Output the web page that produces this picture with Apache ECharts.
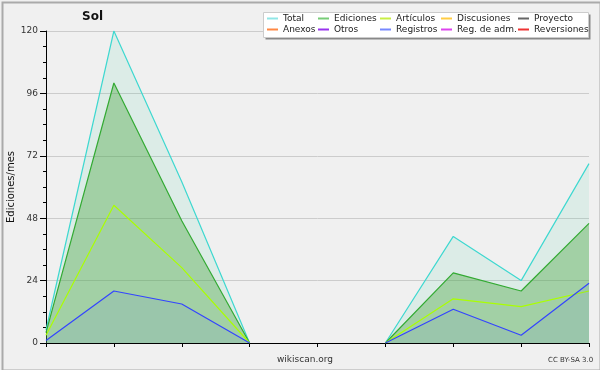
<!DOCTYPE html>
<html><head><meta charset="utf-8">
<script src="https://cdn.jsdelivr.net/npm/echarts@6/dist/echarts.min.js"></script>
<style>html,body{margin:0;padding:0;background:#f0f0f0}#c{width:600px;height:370px}</style>
</head><body><div id="c"></div>
<script>
var categories = ['1','2','3','4','5','6','7','8','9'];
var total      = [5, 120, 62, 0, null, 0, 41, 24, 69];
var ediciones  = [4, 100, 47, 0, null, 0, 27, 20, 46];
var articulos  = [3, 53, 29, 0, null, 0, 17, 14, 20];
var registros  = [1, 20, 15, 0, null, 0, 13, 3, 23];
var emptySeries = [];
var yTicks = [0, 24, 48, 72, 96, 120];

var legendNames = ['Total','Ediciones','Artículos','Discusiones','Proyecto','Anexos','Otros','Registros','Reg. de adm.','Reversiones'];
var legendColors = ['#90e6e6','#77cc77','#c8ee44','#ffcc44','#666666','#ff8844','#9933ee','#7788ff','#dd44ee','#ee3333'];

var chart = echarts.init(document.getElementById('c'), null, {renderer:'canvas'});
var font = 'DejaVu Sans';

function mkSeries(name, data, lineColor, legendColor, fill, z) {
  var s = {
    name: name, type: 'line', data: data, symbol: 'none', z: z,
    connectNulls: false, animation: false,
    lineStyle: {color: lineColor, width: 1.2},
    itemStyle: {color: legendColor}
  };
  if (fill) s.areaStyle = {color: fill, origin: 'start'};
  return s;
}

var series = [
  mkSeries('Total', total, '#3ed8d0', legendColors[0], 'rgba(70,215,170,0.16)', 2),
  mkSeries('Ediciones', ediciones, '#33aa33', legendColors[1], 'rgba(70,165,60,0.55)', 3),
  mkSeries('Artículos', articulos, '#aaff00', legendColors[2], null, 4),
  mkSeries('Registros', registros, '#3344ff', legendColors[7], 'rgba(51,68,255,0.1)', 5),
  mkSeries('Discusiones', emptySeries, legendColors[3], legendColors[3], null, 1),
  mkSeries('Proyecto', emptySeries, legendColors[4], legendColors[4], null, 1),
  mkSeries('Anexos', emptySeries, legendColors[5], legendColors[5], null, 1),
  mkSeries('Otros', emptySeries, legendColors[6], legendColors[6], null, 1),
  mkSeries('Reg. de adm.', emptySeries, legendColors[8], legendColors[8], null, 1),
  mkSeries('Reversiones', emptySeries, legendColors[9], legendColors[9], null, 1)
];

var colX = [267, 318, 380, 441, 518];
var legends = [];
for (var c = 0; c < 5; c++) {
  var items = [];
  for (var r = 0; r < 2; r++) {
    var i = r * 5 + c;
    items.push({name: legendNames[i], icon: 'rect', itemStyle: {color: legendColors[i], borderWidth: 0}});
  }
  legends.push({
    orient: 'vertical', left: colX[c], top: 13, itemGap: 0,
    itemWidth: 11, itemHeight: 2, itemStyle: {borderWidth: 0},
    selectedMode: false, data: items, padding: 0,
    textStyle: {fontFamily: font, fontSize: 9, color: '#222', lineHeight: 11, padding: [0,0,0,0]},
    z: 20
  });
}

chart.setOption({
  backgroundColor: '#f0f0f0',
  animation: false,
  textStyle: {fontFamily: font},
  grid: {left: 46, right: 11, top: 31, bottom: 27, containLabel: false, outerBoundsMode: 'none'},
  legend: legends,
  xAxis: {
    type: 'category', data: categories, boundaryGap: false,
    axisLine: {lineStyle: {color: '#000', width: 1}},
    axisTick: {show: true, length: 4, lineStyle: {color: '#000'}},
    axisLabel: {show: false},
    splitLine: {show: false}
  },
  yAxis: {
    type: 'value', min: yTicks[0], max: yTicks[yTicks.length-1], interval: 24,
    name: 'Ediciones/mes', nameLocation: 'middle', nameGap: 30, nameRotate: 90,
    nameMoveOverlap: false,
    nameTextStyle: {fontFamily: font, fontSize: 10, color: '#111'},
    axisLine: {show: true, lineStyle: {color: '#000', width: 1}},
    axisTick: {show: true, length: 6, lineStyle: {color: '#000'}},
    minorTick: {show: true, splitNumber: 4, length: 3, lineStyle: {color: '#000'}},
    axisLabel: {fontFamily: font, fontSize: 9, color: '#333', margin: 8},
    splitLine: {show: true, lineStyle: {color: '#cccccc', width: 1}}
  },
  series: series,
  graphic: [
    {type: 'rect', left: 0, top: 0, z: 0, silent: true,
     shape: {x: 0.5, y: 0.5, width: 598, height: 368},
     style: {fill: 'none', stroke: '#aaaaaa', lineWidth: 2}},
    {type: 'rect', z: 10, silent: true, shape: {x: 265.5, y: 14.5, width: 325, height: 25},
     style: {fill: '#888888', stroke: 'none'}},
    {type: 'rect', z: 11, silent: true, shape: {x: 263.5, y: 12.5, width: 325, height: 25},
     style: {fill: '#ffffff', stroke: '#cccccc', lineWidth: 1}},
    {type: 'text', z: 12, left: 82, top: 11,
     style: {text: 'Sol', fontFamily: font, fontSize: 12, fontWeight: 'bold', fill: '#111'}},
    {type: 'text', z: 12, left: 277, top: 355,
     style: {text: 'wikiscan.org', fontFamily: font, fontSize: 9, fill: '#333'}},
    {type: 'text', z: 12, left: 548, top: 357,
     style: {text: 'CC BY-SA 3.0', fontFamily: font, fontSize: 7, fill: '#333'}}
  ]
});
</script>
</body></html>
